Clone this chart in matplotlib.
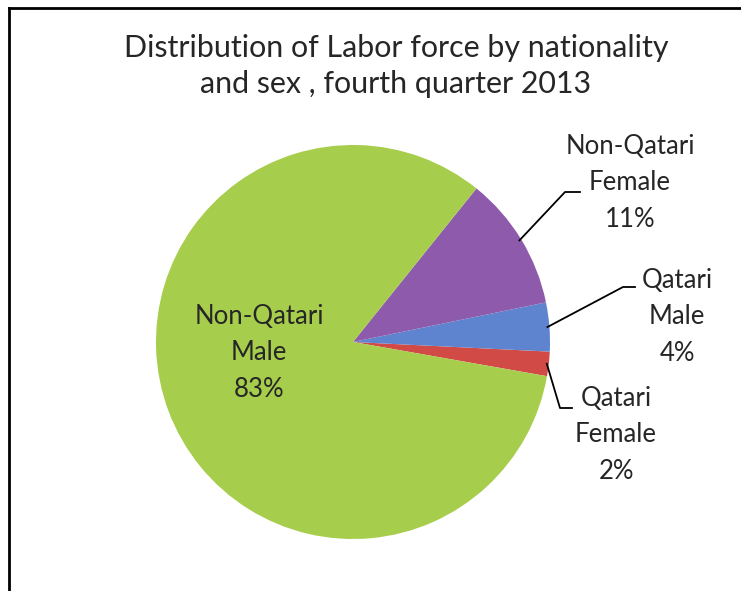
import numpy as np
import matplotlib.pyplot as plt

# data
labels = ['Qatari\nFemale', 'Qatari\nMale', 'Non-Qatari\nFemale', 'Non-Qatari\nMale']
shares = [2, 4, 11, 83]
colors = ['#D24A45', '#5E84CF', '#8E5AAB', '#A7CD4C']
title = 'Distribution of Labor force by nationality\nand sex , fourth quarter 2013'

W, H = 741, 591
plt.rcParams['font.family'] = ['Lato', 'DejaVu Sans']

fig = plt.figure(figsize=(W / 100, H / 100), dpi=100)
ax = fig.add_axes([0, 0, 1, 1])

cx, cy, r = 353, H - 342, 197
wedges, _ = ax.pie(shares, colors=colors, startangle=-10, counterclock=True,
                   center=(cx, cy), radius=r, frame=True)
ax.set_xlim(0, W)
ax.set_ylim(0, H)
ax.set_aspect('equal')
ax.axis('off')

# label text centres (pixel coords, y from top) and leader elbows
text_pos = [(616, 435), (677, 317), (630, 183), (259, 353)]
elbows = [((560, 408), (572, 408)), ((623, 287), (635, 287)), ((565, 192), (580, 192)), None]

for w, lab, s, (tx, ty), elb in zip(wedges, labels, shares, text_pos, elbows):
    ax.text(tx, H - ty, f'{lab}\n{s}%', ha='center', va='center',
            fontsize=18.5, color='#262626', linespacing=1.57)
    if elb is not None:
        mid = np.deg2rad((w.theta1 + w.theta2) / 2)
        px, py = cx + (r - 2) * np.cos(mid), cy + (r - 2) * np.sin(mid)
        (ex, ey), (hx, hy) = elb
        ax.plot([px, ex, hx], [py, H - ey, H - hy], color='black', lw=1.3)

fig.text(396 / W, 1 - 66 / H, title, ha='center', va='center',
         fontsize=21.9, color='#262626', linespacing=1.38)

# frame edges (left and top)
ax.plot([9, 9], [0, H - 8], color='black', lw=2)
ax.plot([9, W], [H - 8, H - 8], color='black', lw=2)

fig.savefig('out.png', dpi=100)
